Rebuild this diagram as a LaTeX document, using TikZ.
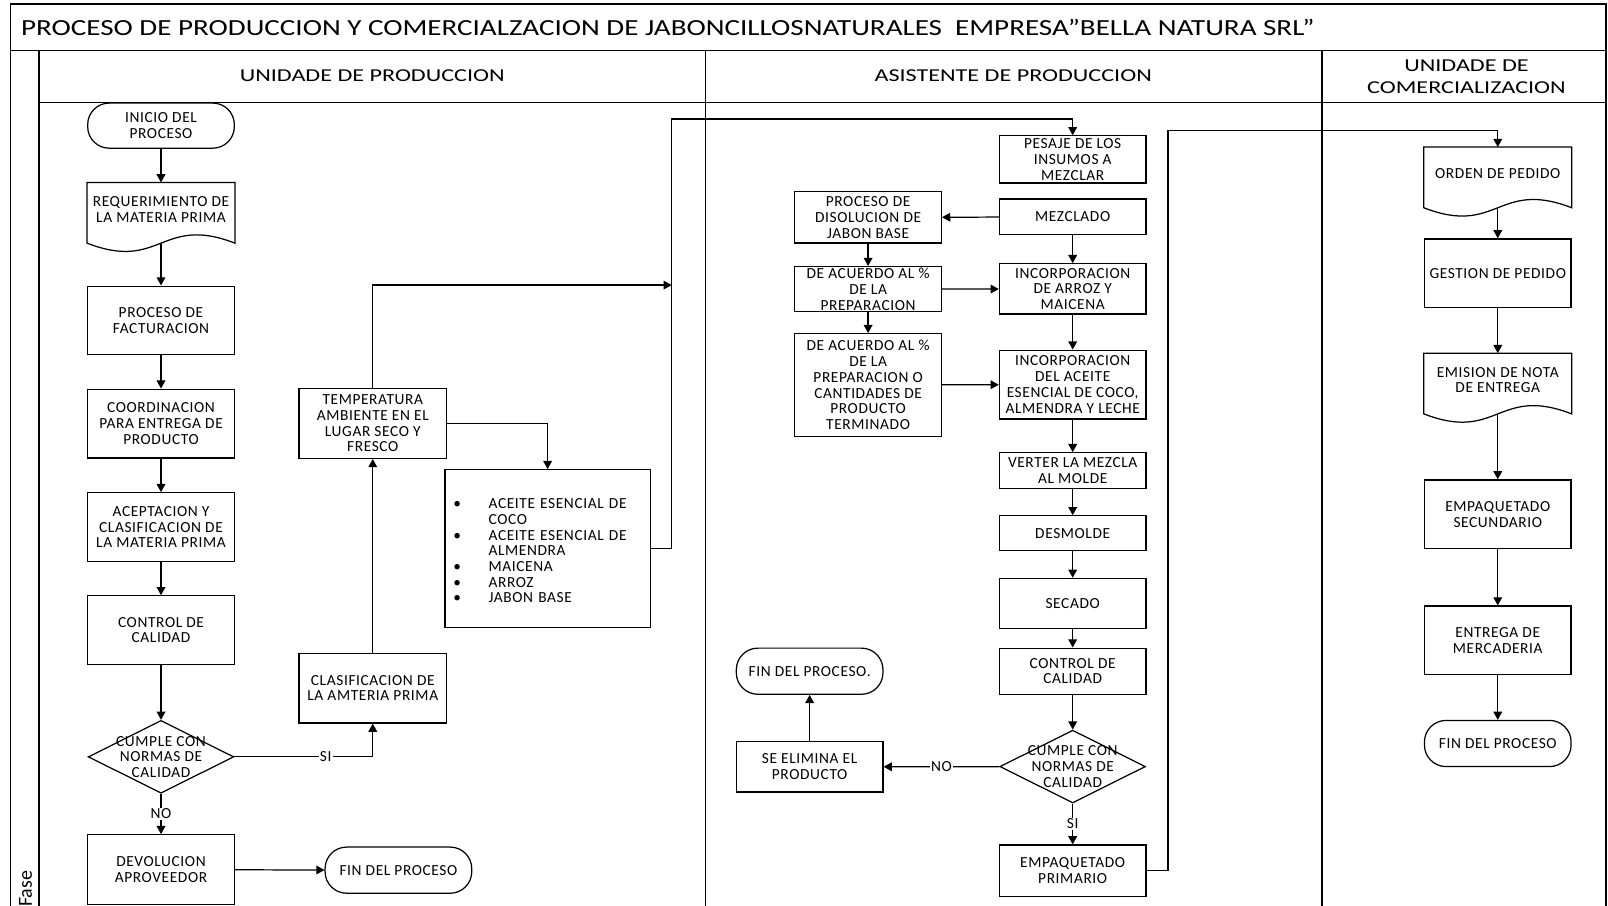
\documentclass[tikz,border=0pt]{standalone}
\usepackage{fontspec}
\setmainfont{Carlito}
\newfontfamily\boxfont{Carlito}[LetterSpace=4]
\newfontfamily\titlefont{Carlito}[FakeStretch=1.26]
\newfontfamily\headfont{Carlito}[FakeStretch=1.33]
\usetikzlibrary{arrows.meta,shapes.geometric,calc}
\newcommand\bx{\boxfont\fontsize{15}{15.3}\selectfont}
% document symbol: straight top and sides, wavy bottom edge
\newcommand\docpath[1]{%
  \draw[line width=1.2pt] (#1.north west) -- ($(#1.south west)+(0,7)$)
    .. controls ($(#1.south)+(0,35)$) and ($(#1.south)+(0,-21)$) .. ($(#1.south east)+(0,7)$)
    -- (#1.north east) -- cycle;
  \coordinate (#1-w) at ($(#1.south)+(0,7)$);}

\begin{document}
\begin{tikzpicture}[x=1pt,y=-1pt,line width=1.2pt,
  base/.style={draw, line width=1.2pt, align=center, font=\bx, inner sep=0.5pt, minimum width=143pt},
  proc/.style={base, rectangle},
  term/.style={base, rectangle, rounded corners=21pt},
  docu/.style={rectangle, align=center, font=\bx, inner sep=0.5pt, minimum width=143pt, minimum height=51pt},
  dec/.style={diamond, draw, line width=1.2pt, minimum width=142pt, minimum height=71pt, inner sep=0pt},
  dectext/.style={font=\bx, align=center, inner sep=0pt},
  arr/.style={-{Triangle[length=8pt,width=8.5pt]}, line width=1.2pt},
  lbl/.style={fill=white, inner sep=1pt, font=\bx},
  frame/.style={line width=1.4pt},
  lane/.style={font=\headfont\fontsize{17.7}{22}\selectfont, align=center}]

\useasboundingbox (0,0) rectangle (1568,883);
\fill[white] (0,0) rectangle (1568,883);

% pool frame, title band, lane headers and lane dividers
\draw[frame] (10,883) -- (10,4) -- (1566,4) -- (1566,883);
\draw[frame] (10,49.5) -- (1566,49.5);
\draw[frame] (38,49.5) -- (38,883);
\draw[frame] (38,100) -- (1566,100);
\draw[frame] (688,49.5) -- (688,883);
\draw[frame] (1289,49.5) -- (1289,883);

\node[anchor=west, font=\titlefont\fontsize{22.5}{26}\selectfont, inner sep=0pt] (title) at (20,27)
  {PROCESO DE PRODUCCION Y COMERCIALZACION DE JABONCILLOSNATURALES~ EMPRESA”BELLA NATURA SRL”};
\node[lane] (h1) at (363,74) {UNIDADE DE PRODUCCION};
\node[lane] (h2) at (988,74) {ASISTENTE DE PRODUCCION};
\node[lane] (h3) at (1430,75) {UNIDADE DE\\COMERCIALIZACION};
\node[rotate=90, anchor=west, font=\fontsize{19.5}{22}\selectfont, inner sep=0pt] (fase) at (25,885) {Fase};

% ---- UNIDADE DE PRODUCCION ----
\node[term, minimum height=44pt] (ini) at (157,122.5) {INICIO DEL\\PROCESO};
\node[docu] (req) at (157,204) {REQUERIMIENTO DE\\LA MATERIA PRIMA};
\docpath{req}
\node[proc, minimum height=67pt] (fac) at (157,312.5) {PROCESO DE\\FACTURACION};
\node[proc, minimum height=67pt] (coo) at (157,413) {COORDINACION\\PARA ENTREGA DE\\PRODUCTO};
\node[proc, minimum height=67pt] (ace1) at (157,514) {ACEPTACION Y\\CLASIFICACION DE\\LA MATERIA PRIMA};
\node[proc, minimum height=67pt] (cc1) at (157,614.5) {CONTROL DE\\CALIDAD};
\node[dec] (d1) at (157,738) {};
\node[dectext] (d1t) at (d1.center) {CUMPLE CON\\NORMAS DE\\CALIDAD};
\node[proc, minimum height=68pt] (dev) at (157,848) {DEVOLUCION\\APROVEEDOR};
\node[term, minimum height=45pt] (fin1) at (388.5,848.5) {FIN DEL PROCESO};
\node[proc, minimum height=68pt, minimum width=144pt] (cla) at (363.5,671) {CLASIFICACION DE\\LA AMTERIA PRIMA};
\node[proc, minimum height=68pt, minimum width=144pt] (tem) at (363.5,413) {TEMPERATURA\\AMBIENTE EN EL\\LUGAR SECO Y\\FRESCO};
\node[draw, rectangle, line width=1.2pt, minimum width=200pt, minimum height=154pt,
      text width=184pt, inner sep=8pt, align=left, font=\bx] (ins) at (534,535)
  {\begin{tabular}{@{}l@{\hspace{27pt}}l@{}}\noalign{\vskip 8pt}
   \textbullet & ACEITE ESENCIAL DE\\
               & COCO\\
   \textbullet & ACEITE ESENCIAL DE\\
               & ALMENDRA\\
   \textbullet & MAICENA\\
   \textbullet & ARROZ\\
   \textbullet & JABON BASE
   \end{tabular}};
\coordinate (j1) at (655,278);
\coordinate (t1) at (655,116);

\draw[arr] (ini) -- (req);
\draw[arr] (req-w) -- (fac);
\draw[arr] (fac) -- (coo);
\draw[arr] (coo) -- (ace1);
\draw[arr] (ace1) -- (cc1);
\draw[arr] (cc1) -- (d1);
\draw[arr] (d1) -- node[lbl]{NO} (dev);
\draw[arr] (dev) -- (fin1);
\draw[arr] (d1.east) -| node[lbl, pos=0.33]{SI} (cla);
\draw[arr] (cla) -- (tem);
\draw[arr] (tem) |- (j1);
\draw[arr] (tem) -| (ins);

% ---- ASISTENTE DE PRODUCCION ----
\node[proc, minimum height=46pt] (pes) at (1046,155.5) {PESAJE DE LOS\\INSUMOS A\\MEZCLAR};
\node[proc, minimum height=35pt] (mez) at (1046,211.5) {MEZCLADO};
\node[proc, minimum height=50pt] (dis) at (846.5,212) {PROCESO DE\\DISOLUCION DE\\JABON BASE};
\node[proc, minimum height=44pt] (da1) at (846.5,282) {DE ACUERDO AL \%\\DE LA\\PREPARACION};
\node[proc, minimum height=49pt] (arz) at (1046,281.75) {INCORPORACION\\DE ARROZ Y\\MAICENA};
\node[proc, minimum height=100pt] (da2) at (846.5,375.4) {DE ACUERDO AL \%\\DE LA\\PREPARACION O\\CANTIDADES DE\\PRODUCTO\\TERMINADO};
\node[proc, minimum height=67pt] (acn) at (1046,375) {INCORPORACION\\DEL ACEITE\\ESENCIAL DE COCO,\\ALMENDRA Y LECHE};
\node[proc, minimum height=35pt] (ver) at (1046,459) {VERTER LA MEZCLA\\AL MOLDE};
\node[proc, minimum height=34pt] (dsm) at (1046,520) {DESMOLDE};
\node[proc, minimum height=49pt] (sec) at (1046,588.5) {SECADO};
\node[proc, minimum height=45pt] (cc2) at (1046,654.5) {CONTROL DE\\CALIDAD};
\node[dec] (d2) at (1046,747.5) {};
\node[dectext] (d2t) at (d2.center) {CUMPLE CON\\NORMAS DE\\CALIDAD};
\node[proc, minimum height=49pt] (eli) at (789.5,747.75) {SE ELIMINA EL\\PRODUCTO};
\node[term, minimum height=45pt] (fin2) at (789.5,654.5) {FIN DEL PROCESO.};
\node[proc, minimum height=50pt] (em1) at (1046,849) {EMPAQUETADO\\PRIMARIO};
\coordinate (t2) at (1139,127);

\draw[arr] (ins) -| (t1) -| (pes);
\draw[arr] (mez) -- (dis);
\draw[arr] (dis) -- (da1);
\draw[arr] (da1) -- (da2);
\draw[arr] (da1) -- (arz);
\draw[arr] (da2) -- (acn);
\draw[arr] (mez) -- (arz);
\draw[arr] (arz) -- (acn);
\draw[arr] (acn) -- (ver);
\draw[arr] (ver) -- (dsm);
\draw[arr] (dsm) -- (sec);
\draw[arr] (sec) -- (cc2);
\draw[arr] (cc2) -- (d2);
\draw[arr] (d2) -- node[lbl]{NO} (eli);
\draw[arr] (eli) -- (fin2);
\draw[arr] (d2) -- node[lbl]{SI} (em1);

% ---- UNIDADE DE COMERCIALIZACION ----
\node[docu] (ord) at (1460.5,169.5) {ORDEN DE PEDIDO};
\docpath{ord}
\node[proc, minimum height=67pt] (ges) at (1460.5,266.5) {GESTION DE PEDIDO};
\node[docu] (emi) at (1460.5,370.5) {EMISION DE NOTA\\DE ENTREGA};
\docpath{emi}
\node[proc, minimum height=67pt] (es2) at (1460.5,501.5) {EMPAQUETADO\\SECUNDARIO};
\node[proc, minimum height=67pt] (ent) at (1460.5,624.5) {ENTREGA DE\\MERCADERIA};
\node[term, minimum height=45pt] (fin3) at (1460.5,725) {FIN DEL PROCESO};

\draw[arr] (em1) -| (t2) -| (ord);
\draw[arr] (ord-w) -- (ges);
\draw[arr] (ges) -- (emi);
\draw[arr] (emi-w) -- (es2);
\draw[arr] (es2) -- (ent);
\draw[arr] (ent) -- (fin3);
\end{tikzpicture}
\end{document}
